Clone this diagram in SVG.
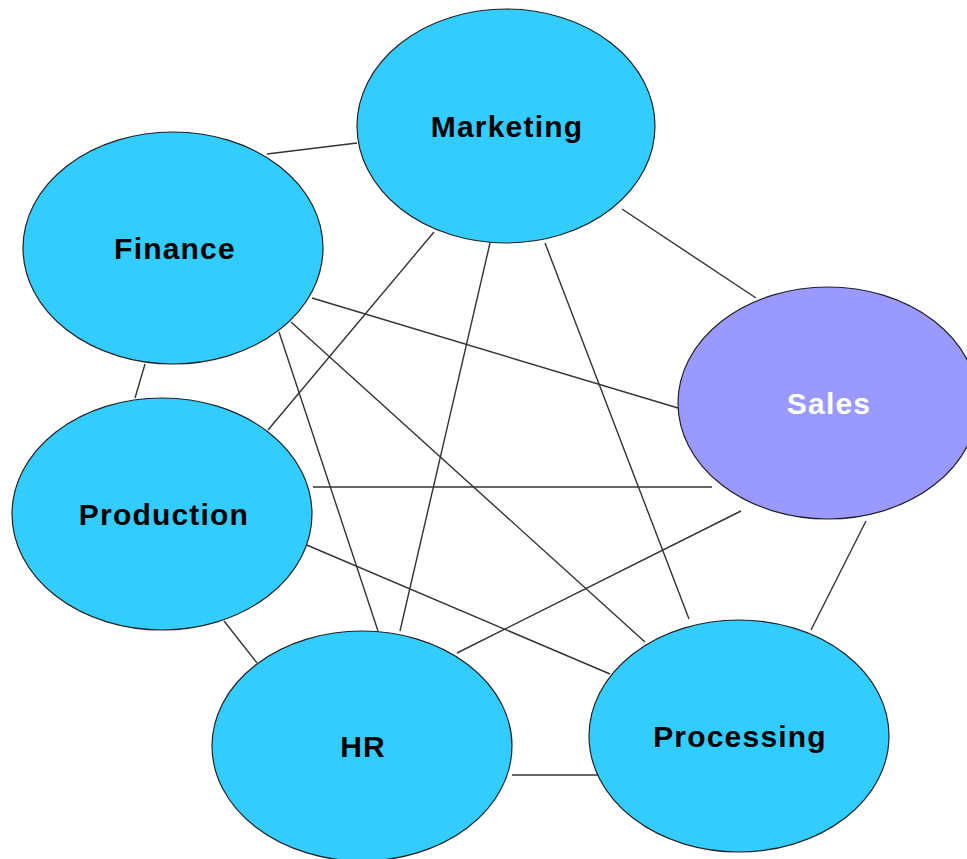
<svg xmlns="http://www.w3.org/2000/svg" width="967" height="859" viewBox="0 0 967 859">
<style>
.n{fill:#33CCFF;stroke:#222;stroke-width:1.2}
.s{fill:#9999FF;stroke:#222;stroke-width:1.2}
.c line{stroke:#333;stroke-width:1.4}
text{font-family:"Liberation Sans",Arial,sans-serif;font-weight:bold;font-size:30px;letter-spacing:1.2px;text-anchor:middle;fill:#000}
.w{fill:#fff}
</style>
<rect width="967" height="859" fill="#fff"/>
<g class="c" id="connectors">
<line x1="267" y1="154" x2="357" y2="143"/>
<line x1="622" y1="209" x2="756" y2="298"/>
<line x1="312" y1="298" x2="678" y2="408"/>
<line x1="145" y1="364" x2="135" y2="398"/>
<line x1="434" y1="232" x2="268" y2="430"/>
<line x1="490" y1="243" x2="400" y2="631"/>
<line x1="545" y1="243" x2="689" y2="619"/>
<line x1="279" y1="332" x2="378" y2="631"/>
<line x1="291" y1="322" x2="645" y2="642"/>
<line x1="313" y1="487" x2="712" y2="487"/>
<line x1="741" y1="511" x2="457" y2="653"/>
<line x1="302" y1="543" x2="610" y2="674"/>
<line x1="224" y1="621" x2="257" y2="663"/>
<line x1="866" y1="521" x2="811" y2="630"/>
<line x1="512" y1="775" x2="601" y2="775"/>
</g>
<g id="marketing"><ellipse class="n" cx="506" cy="126" rx="149" ry="117"/><text x="507" y="137">Marketing</text></g>
<g id="finance"><ellipse class="n" cx="173" cy="248" rx="150" ry="116"/><text x="175" y="259">Finance</text></g>
<g id="sales"><ellipse class="s" cx="828" cy="403" rx="150" ry="116"/><text class="w" x="829" y="414">Sales</text></g>
<g id="production"><ellipse class="n" cx="162" cy="514" rx="150" ry="116"/><text x="164" y="525">Production</text></g>
<g id="hr"><ellipse class="n" cx="362" cy="746" rx="150" ry="115"/><text x="363" y="757">HR</text></g>
<g id="processing"><ellipse class="n" cx="739" cy="736" rx="150" ry="116"/><text x="740" y="747">Processing</text></g>
</svg>
